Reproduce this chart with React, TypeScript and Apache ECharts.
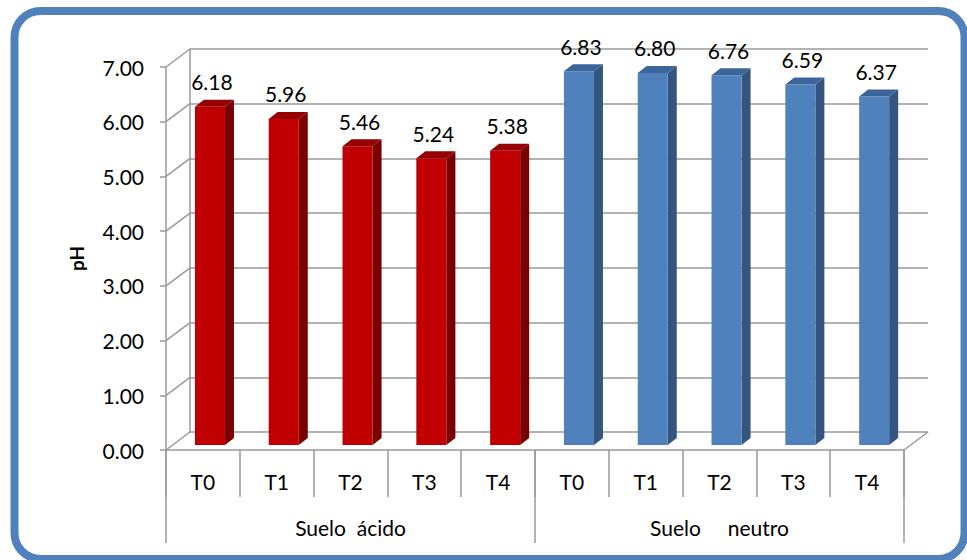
import React, { useEffect, useRef } from "react";
import * as echarts from "echarts";

// Treatments per soil type, tick values and group names
const categories = ["T0", "T1", "T2", "T3", "T4", "T0", "T1", "T2", "T3", "T4"];
const groups = ["Suelo  ácido", "Suelo     neutro"];
const acidValues = [6.18, 5.96, 5.46, 5.24, 5.38];
const neutralValues = [6.83, 6.8, 6.76, 6.59, 6.37];
const yTicks = [0, 1, 2, 3, 4, 5, 6, 7];

const FONT = "Lato, 'Open Sans', sans-serif";
const FONT_SIZE = 21;
const GRID_COLOR = "#9a9a9a";
// depth of the back wall and of each bar
const WALL_DX = 24;
const WALL_DY = 18;
const BAR_DX = 9;
const BAR_DY = 7;

const barRenderer = (front: string, side: string, top: string) => (params: any, api: any) => {
  const i = api.value(0);
  const v = api.value(1);
  const pTop = api.coord([i, v]);
  const pBase = api.coord([i, 0]);
  const bw = api.size([1, 0])[0];
  const fx0 = pTop[0] - bw * 0.108;
  const fw = bw * 0.407;
  const fx1 = fx0 + fw;
  const yT = pTop[1] - 5;
  const yB = pBase[1] - 5;
  return {
    type: "group",
    children: [
      {
        type: "polygon",
        shape: { points: [[fx1, yT], [fx1 + BAR_DX, yT - BAR_DY], [fx1 + BAR_DX, yB - BAR_DY], [fx1, yB]] },
        style: { fill: side },
      },
      {
        type: "rect",
        shape: { x: fx0, y: yT, width: fw, height: yB - yT },
        style: { fill: front },
      },
      {
        type: "polygon",
        shape: { points: [[fx0, yT], [fx0 + BAR_DX, yT - BAR_DY], [fx1 + BAR_DX, yT - BAR_DY], [fx1, yT]] },
        style: { fill: top },
      },
      {
        type: "text",
        style: {
          x: fx0 + fw / 2 + 2,
          y: yT - 25,
          text: v.toFixed(2),
          align: "center",
          verticalAlign: "middle",
          font: `${FONT_SIZE}px ${FONT}`,
          fill: "#000",
        },
      },
    ],
  };
};

const wallRenderer = (params: any, api: any) => {
  const v = api.value(1);
  const y = api.coord([0, v])[1];
  const cs = params.coordSys;
  const lines: any[] = [
    {
      type: "line",
      shape: { x1: cs.x, y1: y, x2: cs.x + WALL_DX, y2: y - WALL_DY },
      style: { stroke: GRID_COLOR, lineWidth: 1.5 },
    },
  ];
  if (v === 0) {
    lines.push({
      type: "line",
      shape: { x1: cs.x + cs.width, y1: y, x2: cs.x + cs.width + WALL_DX, y2: y - WALL_DY },
      style: { stroke: GRID_COLOR, lineWidth: 1.5 },
    });
  }
  return { type: "group", children: lines };
};

export default function App() {
  const ref = useRef<HTMLDivElement>(null);

  useEffect(() => {
    if (!ref.current) return;
    const chart = echarts.init(ref.current, null, { renderer: "svg" });
    const labelStyle = { fontFamily: FONT, fontSize: FONT_SIZE, color: "#000" };

    chart.setOption({
      animation: false,
      backgroundColor: "#fff",
      grid: [
        { left: 166, top: 67, width: 738, height: 383 },
        { left: 166 + WALL_DX, top: 67 - WALL_DY, width: 738, height: 383 },
      ],
      xAxis: [
        {
          type: "category",
          gridIndex: 0,
          data: categories,
          position: "bottom",
          axisLine: { lineStyle: { color: GRID_COLOR, width: 1.5 } },
          axisTick: { show: true, interval: 0, length: 47, lineStyle: { color: GRID_COLOR, width: 1.5 } },
          axisLabel: { ...labelStyle, interval: 0, margin: 21 },
        },
        {
          type: "category",
          gridIndex: 0,
          data: groups,
          position: "bottom",
          offset: 0,
          axisLine: { show: false },
          axisTick: { show: true, interval: 0, length: 93, lineStyle: { color: GRID_COLOR, width: 1.5 } },
          axisLabel: { ...labelStyle, interval: 0, margin: 67 },
        },
        {
          type: "category",
          gridIndex: 1,
          data: categories,
          show: false,
        },
      ],
      yAxis: [
        {
          type: "value",
          gridIndex: 0,
          min: 0,
          max: 7,
          interval: 1,
          name: "pH",
          nameLocation: "middle",
          nameGap: 80,
          nameRotate: 90,
          nameTextStyle: { fontFamily: FONT, fontSize: 19, fontWeight: "bold", color: "#000" },
          axisLine: { show: true, lineStyle: { color: GRID_COLOR, width: 1.5 } },
          axisTick: { show: true, length: 6, lineStyle: { color: GRID_COLOR, width: 1.5 } },
          axisLabel: { ...labelStyle, margin: 22, formatter: (v: number) => v.toFixed(2) },
          splitLine: { show: false },
        },
        {
          type: "value",
          gridIndex: 1,
          min: 0,
          max: 7,
          interval: 1,
          axisLine: { show: true, lineStyle: { color: GRID_COLOR, width: 1.5 } },
          axisTick: { show: false },
          axisLabel: { show: false },
          splitLine: { show: true, lineStyle: { color: GRID_COLOR, width: 1.5 } },
        },
      ],
      series: [
        {
          type: "custom",
          xAxisIndex: 0,
          yAxisIndex: 0,
          silent: true,
          z: 1,
          renderItem: wallRenderer,
          data: yTicks.map((v) => [0, v]),
        },
        {
          type: "custom",
          name: "Suelo ácido",
          xAxisIndex: 0,
          yAxisIndex: 0,
          z: 3,
          renderItem: barRenderer("#c00000", "#780000", "#950000"),
          data: acidValues.map((v, i) => [i, v]),
        },
        {
          type: "custom",
          name: "Suelo neutro",
          xAxisIndex: 0,
          yAxisIndex: 0,
          z: 3,
          renderItem: barRenderer("#4f81bd", "#34557e", "#3c659a"),
          data: neutralValues.map((v, i) => [i + acidValues.length, v]),
        },
      ],
      graphic: [
        {
          type: "rect",
          z: 10,
          silent: true,
          shape: { x: 14.5, y: 11, width: 950, height: 548, r: 26 },
          style: { fill: "none", stroke: "#4f81bd", lineWidth: 8 },
        },
      ],
    });

    return () => chart.dispose();
  }, []);

  return (
    <div
      ref={ref}
      style={{ position: "fixed", left: 0, top: 0, width: 967, height: 560 }}
    />
  );
}
